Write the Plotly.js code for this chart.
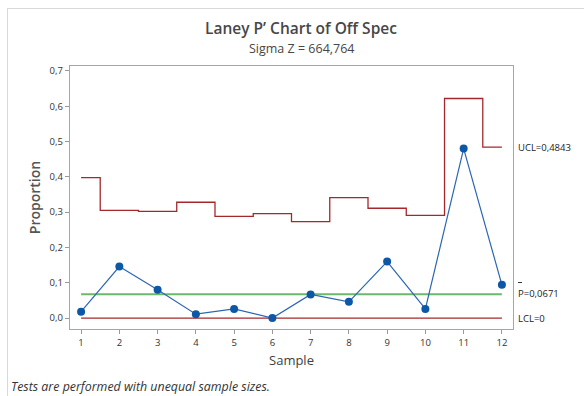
<!DOCTYPE html>
<html>
<head>
<meta charset="utf-8">
<script src="https://cdn.plot.ly/plotly-3.0.1.min.js"></script>
<style>
html,body{margin:0;padding:0;background:#fff;}
#wrap{position:relative;width:584px;height:396px;}
#chart{width:584px;height:396px;}
#frame{position:absolute;left:7px;top:8px;right:-2px;bottom:-2px;border-left:1px solid #d9d9d9;border-top:1px solid #d9d9d9;pointer-events:none;}
</style>
</head>
<body>
<div id="wrap"><div id="chart"></div><div id="frame"></div></div>
<script>
// Data
const samples = [1,2,3,4,5,6,7,8,9,10,11,12];
const proportion = [0.018,0.146,0.080,0.011,0.026,0.0,0.067,0.046,0.160,0.026,0.480,0.094];
const ucl = [0.398,0.305,0.302,0.328,0.288,0.296,0.273,0.341,0.311,0.291,0.622,0.4843];
const pbar = 0.0671;
const lcl = 0;
const yTicks = [0,0.1,0.2,0.3,0.4,0.5,0.6,0.7];
const yTickText = ["0,0","0,1","0,2","0,3","0,4","0,5","0,6","0,7"];
const chartTitle = 'Laney P’ Chart of Off Spec';
const chartSubtitle = 'Sigma Z = 664,764';
const footnote = 'Tests are performed with unequal sample sizes.';

const fmt = v => String(v).replace('.', ',');
const red = '#a4282b';
const font = '"Open Sans", "Noto Sans", sans-serif';

const traces = [
  {x: samples, y: ucl, mode: 'lines', line: {shape: 'hvh', color: red, width: 1.3}, hoverinfo: 'skip'},
  {x: samples, y: samples.map(() => pbar), mode: 'lines', line: {color: '#6cb86c', width: 2}, hoverinfo: 'skip'},
  {x: samples, y: samples.map(() => lcl), mode: 'lines', line: {color: red, width: 1.3}, hoverinfo: 'skip'},
  {x: samples, y: proportion, mode: 'lines+markers', line: {color: '#2a66b4', width: 1.2},
   marker: {color: '#0d58a6', size: 8}}
];

// plot area: x 70..513 (443px), y 66..329 (263px)
const px = xp => (xp - 70) / 443;
const py = yp => (329 - yp) / 263;

const lastUcl = ucl[ucl.length - 1];
const lab = {size: 9.5, color: '#222', family: font};
const layout = {
  width: 584, height: 396,
  margin: {l: 70, r: 71, t: 66, b: 67},
  paper_bgcolor: '#fff', plot_bgcolor: '#fff',
  showlegend: false,
  font: {family: font, color: '#333'},
  xaxis: {
    range: [0.71, 12.29], tickvals: samples, ticktext: samples.map(String),
    ticks: 'outside', ticklen: 4, tickcolor: '#999', showgrid: false, zeroline: false,
    showline: true, linecolor: '#a6a6a6', linewidth: 1.2, mirror: true,
    tickfont: {size: 9.5, color: '#333', family: font},
    title: {text: 'Sample', font: {size: 13, color: '#404040', family: font}, standoff: 8}
  },
  yaxis: {
    range: [-0.031, 0.714], tickvals: yTicks, ticktext: yTickText,
    ticks: 'outside', ticklen: 4, tickcolor: '#999', showgrid: false, zeroline: false,
    showline: true, linecolor: '#a6a6a6', linewidth: 1.2, mirror: true,
    tickfont: {size: 9.5, color: '#333', family: font},
    title: {text: 'Proportion', font: {size: 14, weight: 600, color: '#555', family: font}, standoff: 5}
  },
  shapes: [
    // bar over the "P" of the centre-line label
    {type: 'line', xref: 'paper', yref: 'paper', x0: px(518), x1: px(522), y0: py(282.5), y1: py(282.5),
     line: {color: '#333', width: 1}}
  ],
  annotations: [
    {xref: 'paper', yref: 'paper', x: px(301), y: py(28.5), xanchor: 'center', yanchor: 'middle',
     text: chartTitle, showarrow: false, font: {size: 15.5, weight: 600, color: '#474747', family: font}},
    {xref: 'paper', yref: 'paper', x: px(301), y: py(48), xanchor: 'center', yanchor: 'middle',
     text: chartSubtitle, showarrow: false, font: {size: 12.5, color: '#474747', family: font}},
    {xref: 'paper', yref: 'y', x: px(516), y: lastUcl, xanchor: 'left', yanchor: 'middle',
     text: 'UCL=' + fmt(lastUcl), showarrow: false, font: lab},
    {xref: 'paper', yref: 'y', x: px(516), y: pbar + 0.002, xanchor: 'left', yanchor: 'middle',
     text: 'P=' + fmt(pbar), showarrow: false, font: lab},
    {xref: 'paper', yref: 'y', x: px(516), y: lcl, xanchor: 'left', yanchor: 'middle',
     text: 'LCL=' + fmt(lcl), showarrow: false, font: lab},
    {xref: 'paper', yref: 'paper', x: px(9), y: py(387), xanchor: 'left', yanchor: 'middle',
     text: '<i>' + footnote + '</i>', showarrow: false,
     font: {size: 12.4, color: '#333', family: font}}
  ]
};

Plotly.newPlot('chart', traces, layout, {displayModeBar: false, staticPlot: true});
</script>
</body>
</html>
